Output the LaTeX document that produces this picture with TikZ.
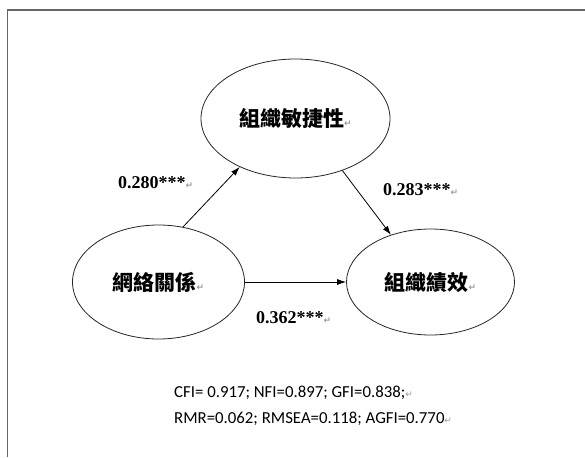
\documentclass[tikz,border=0pt]{standalone}
\usepackage{fontspec}
\usetikzlibrary{shapes.geometric,arrows.meta}
\newfontfamily\cjk{Noto Sans CJK TC}
\newfontfamily\numfont{Liberation Serif}
\newfontfamily\fitfont{Carlito}
\newfontfamily\symfont{DejaVu Sans}
\definecolor{framegray}{HTML}{666666}
\definecolor{markgray}{HTML}{9A9A9A}
\newcommand{\pmark}{{\symfont\fontsize{9}{9}\selectfont\color{markgray}↵}}
\tikzset{
  construct/.style={ellipse, draw=black!85, line width=0.8pt, inner sep=0pt,
    font=\cjk\bfseries\fontsize{21}{21}\selectfont},
  coef/.style={anchor=base west, inner sep=0pt,
    font=\numfont\bfseries\fontsize{18}{18}\selectfont},
  fit/.style={anchor=base west, inner sep=0pt,
    font=\fitfont\fontsize{16.8}{16.8}\selectfont},
  path/.style={line width=0.8pt, -{Latex[length=9pt,width=6pt]}}
}
\begin{document}
\begin{tikzpicture}[x=1pt,y=-1pt]
\useasboundingbox (0,0) rectangle (585,457);
\fill[white] (0,0) rectangle (585,457);
\draw[framegray, line width=1.6pt] (7.5,457) -- (7.5,10) -- (585,10);

\node[construct, minimum width=189pt, minimum height=119pt] (T) at (295.5,118.5) {組織敏捷性\pmark};
\node[construct, minimum width=172pt, minimum height=114pt] (L) at (158.5,282) {網絡關係\pmark};
\node[construct, minimum width=168pt, minimum height=106pt] (R) at (430.5,282) {組織績效\pmark};

\draw[path] (L.66) -- (T.221);
\draw[path] (T.312) -- (R.130);
\draw[path] (L.east) -- (R.west);

\node[coef] (c1) at (118,188) {0.280***\pmark};
\node[coef] (c2) at (383,195.5) {0.283***\pmark};
\node[coef] (c3) at (256,323) {0.362***\pmark};

\node[fit] (f1) at (174,397) {CFI= 0.917; NFI=0.897; GFI=0.838;\pmark};
\node[fit] (f2) at (174,423) {RMR=0.062; RMSEA=0.118; AGFI=0.770\pmark};
\end{tikzpicture}
\end{document}
